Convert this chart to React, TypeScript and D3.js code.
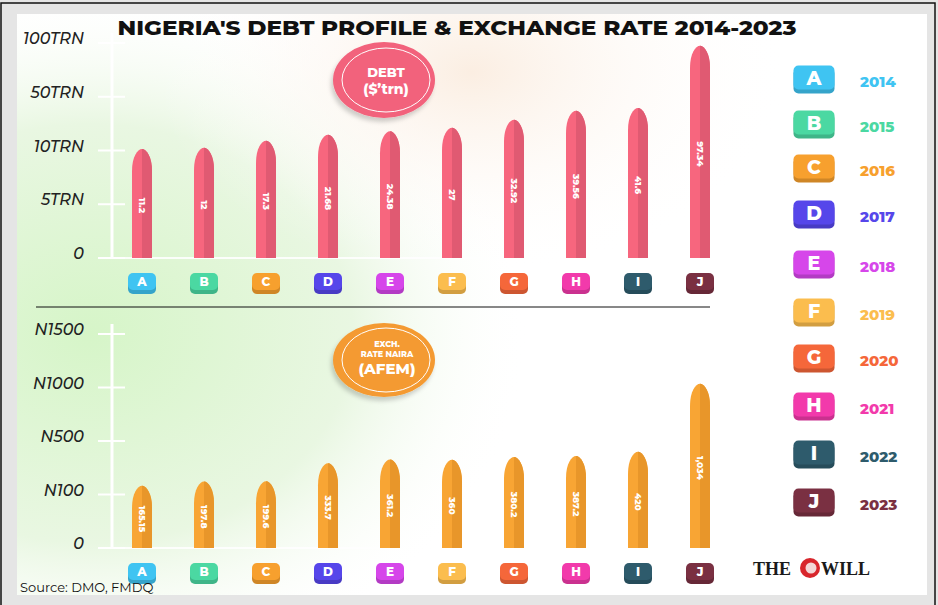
import * as d3 from "d3";

// categories and years
const letters = ["A", "B", "C", "D", "E", "F", "G", "H", "I", "J"];
const years = ["2014", "2015", "2016", "2017", "2018", "2019", "2020", "2021", "2022", "2023"];
const letterColors = ["#3fc4f2", "#4bd8a2", "#f7a02e", "#5646ea", "#d646ea", "#fbbd4e", "#f5673a", "#f23aab", "#2e5b6c", "#7a3042"];

// debt in trillion naira
const debtValues = [11.2, 12, 17.3, 21.68, 24.38, 27, 32.92, 39.56, 41.6, 97.34];
const debtLabels = ["11.2", "12", "17.3", "21.68", "24.38", "27", "32.92", "39.56", "41.6", "97.34"];
const debtTicks = [0, 5, 10, 50, 100];
const debtTickLabels = ["0", "5TRN", "10TRN", "50TRN", "100TRN"];

// exchange rate naira/$ (AFEM)
const fxValues = [165.15, 197.8, 199.6, 333.7, 361.2, 360, 380.2, 387.2, 420, 1034];
const fxLabels = ["165.15", "197.8", "199.6", "333.7", "361.2", "360", "380.2", "387.2", "420", "1,034"];
const fxTicks = [0, 100, 500, 1000, 1500];
const fxTickLabels = ["0", "N100", "N500", "N1000", "N1500"];

const W = 938;
const H = 605;
const font = "Montserrat, 'Open Sans', 'DejaVu Sans', sans-serif";

const x = d3.scalePoint<string>().domain(letters).range([142, 700]);

function bulletPath(cx: number, top: number, bottom: number, w: number) {
  const tip = Math.min(22, (bottom - top) * 0.4);
  const l = cx - w / 2;
  const r = cx + w / 2;
  return `M${l},${bottom} L${l},${top + tip} C${l},${top + tip * 0.35} ${cx - w * 0.22},${top} ${cx},${top} C${cx + w * 0.22},${top} ${r},${top + tip * 0.35} ${r},${top + tip} L${r},${bottom} Z`;
}

function halfPath(cx: number, top: number, bottom: number, w: number) {
  const tip = Math.min(22, (bottom - top) * 0.4);
  const r = cx + w / 2;
  return `M${cx},${bottom} L${cx},${top} C${cx + w * 0.22},${top} ${r},${top + tip * 0.35} ${r},${top + tip} L${r},${bottom} Z`;
}

function Badge({ cx, cy, w, h, color, letter, fs }: any) {
  const shade = d3.color(color)!.darker(0.5).formatHex();
  return (
    <g>
      <rect x={cx - w / 2} y={cy - h / 2 + 3} width={w} height={h} rx={5} fill={shade} />
      <rect x={cx - w / 2} y={cy - h / 2} width={w} height={h - 1} rx={5} fill={color} />
      <text x={cx} y={cy + fs * 0.35} textAnchor="middle" fill="#fff" fontWeight={800} fontSize={fs} fontFamily={font}>
        {letter}
      </text>
    </g>
  );
}

function Panel({ values, labels, ticks, tickLabels, top, bottom, light, dark }: any) {
  const step = (bottom - top) / (ticks.length - 1);
  const y = d3
    .scaleLinear()
    .domain(ticks)
    .range(ticks.map((_: number, i: number) => bottom - i * step));
  return (
    <g>
      {/* axis */}
      <line x1={112} x2={112} y1={top - 10} y2={bottom} stroke="#fff" strokeWidth={3} />
      <line x1={98} x2={712} y1={bottom} y2={bottom} stroke="#fff" strokeWidth={2} opacity={0.9} />
      {ticks.map((t: number, i: number) => (
        <g key={t}>
          <line x1={98} x2={125} y1={y(t)} y2={y(t)} stroke="#fff" strokeWidth={2} />
          <text
            x={84}
            y={y(t) + 1}
            textAnchor="end"
            fontStyle="italic"
            fontWeight={500}
            fontSize={16}
            fill="#222"
            fontFamily={font}
          >
            {tickLabels[i]}
          </text>
        </g>
      ))}
      {letters.map((l, i) => {
        const cx = x(l)!;
        const yt = y(values[i]);
        const mid = (yt + bottom) / 2 + 2;
        return (
          <g key={l}>
            <path d={bulletPath(cx, yt, bottom, 20)} fill={light} />
            <path d={halfPath(cx, yt, bottom, 20)} fill={dark} />
            <text
              transform={`translate(${cx - 3.5},${mid}) rotate(90)`}
              textAnchor="middle"
              fill="#fff"
              fontWeight={800}
              fontSize={9}
              fontFamily={font}
            >
              {labels[i]}
            </text>
            <Badge cx={cx} cy={bottom + 24} w={28} h={18} color={letterColors[i]} letter={l} fs={12} />
          </g>
        );
      })}
    </g>
  );
}

export default function App() {
  return (
    <svg width={W} height={H} style={{ position: "absolute", left: 0, top: 0 }}>
      <defs>
        <radialGradient id="greenGlow" cx="0.1" cy="0.55" r="0.6">
          <stop offset="0" stopColor="#d6f5c8" />
          <stop offset="0.6" stopColor="#e9f7e2" />
          <stop offset="1" stopColor="#ffffff" stopOpacity={0} />
        </radialGradient>
        <radialGradient id="peachGlow" cx="0.5" cy="0.1" r="0.35">
          <stop offset="0" stopColor="#fbeee2" />
          <stop offset="1" stopColor="#ffffff" stopOpacity={0} />
        </radialGradient>
        <filter id="shadow" x="-30%" y="-30%" width="160%" height="160%">
          <feDropShadow dx={-2} dy={4} stdDeviation={2} floodColor="#000" floodOpacity={0.18} />
        </filter>
      </defs>
      <rect x={0} y={0} width={W} height={H} fill="#e5e5e5" />
      <rect x={1} y={3} width={934} height={603} fill="none" stroke="#111" strokeWidth={1.5} />
      <rect x={17} y={14} width={910} height={581} fill="#fff" />
      <rect x={17} y={14} width={730} height={581} fill="url(#greenGlow)" />
      <rect x={17} y={14} width={910} height={581} fill="url(#peachGlow)" />

      <text
        x={457}
        y={35}
        textAnchor="middle"
        fontWeight={800}
        fontSize={20}
        fill="#111"
        fontFamily={font}
        textLength={679}
        lengthAdjust="spacingAndGlyphs"
      >
        NIGERIA'S DEBT PROFILE &amp; EXCHANGE RATE 2014-2023
      </text>

      <Panel
        values={debtValues}
        labels={debtLabels}
        ticks={debtTicks}
        tickLabels={debtTickLabels}
        top={43}
        bottom={258}
        light="#f7667e"
        dark="#e05a72"
      />
      <line x1={36} x2={710} y1={307} y2={307} stroke="#111" strokeWidth={1} />
      <Panel
        values={fxValues}
        labels={fxLabels}
        ticks={fxTicks}
        tickLabels={fxTickLabels}
        top={334}
        bottom={548}
        light="#f8a534"
        dark="#e8962a"
      />

      {/* debt bubble */}
      <g filter="url(#shadow)">
        <ellipse cx={384} cy={80} rx={51} ry={38} fill="#f2627b" />
      </g>
      <ellipse cx={386} cy={80} rx={44} ry={32} fill="none" stroke="#fff" strokeWidth={1} />
      <text x={386} y={77} textAnchor="middle" fill="#fff" fontWeight={800} fontSize={13} fontFamily={font}>
        DEBT
      </text>
      <text x={386} y={94} textAnchor="middle" fill="#fff" fontWeight={800} fontSize={14} fontFamily={font}>
        ($’trn)
      </text>

      {/* exchange bubble */}
      <g filter="url(#shadow)">
        <ellipse cx={384} cy={360} rx={51} ry={37} fill="#f49a33" />
      </g>
      <ellipse cx={386} cy={360} rx={44} ry={32} fill="none" stroke="#fff" strokeWidth={1} />
      <text x={387} y={347} textAnchor="middle" fill="#fff" fontWeight={800} fontSize={8} fontFamily={font}>
        EXCH.
      </text>
      <text x={387} y={357} textAnchor="middle" fill="#fff" fontWeight={800} fontSize={8} fontFamily={font}>
        RATE NAIRA
      </text>
      <text x={387} y={374} textAnchor="middle" fill="#fff" fontWeight={800} fontSize={15} fontFamily={font}>
        (AFEM)
      </text>

      {/* legend */}
      {letters.map((l, i) => {
        const cys = [78, 123, 167, 213, 263, 311, 357, 405, 453, 501];
        return (
          <g key={l}>
            <Badge cx={814} cy={cys[i]} w={41} h={25} color={letterColors[i]} letter={l} fs={19} />
            <text
              x={860}
              y={cys[i] + 9}
              fill={letterColors[i]}
              fontWeight={800}
              fontSize={15}
              fontFamily={font}
            >
              {years[i]}
            </text>
          </g>
        );
      })}

      {/* logo */}
      <text x={753} y={575} fontFamily="'Liberation Serif', serif" fontWeight={700} fontSize={18} fill="#1a1a1a">
        THE
      </text>
      <circle cx={810} cy={568} r={10} fill="#d8262c" />
      <circle cx={811} cy={568} r={5.5} fill="#f3d7d7" />
      <text x={821} y={575} fontFamily="'Liberation Serif', serif" fontWeight={700} fontSize={18} fill="#1a1a1a">
        WILL
      </text>

      <text x={20} y={592} fontSize={13} fill="#111" fontFamily={font}>
        Source: DMO, FMDQ
      </text>
    </svg>
  );
}
